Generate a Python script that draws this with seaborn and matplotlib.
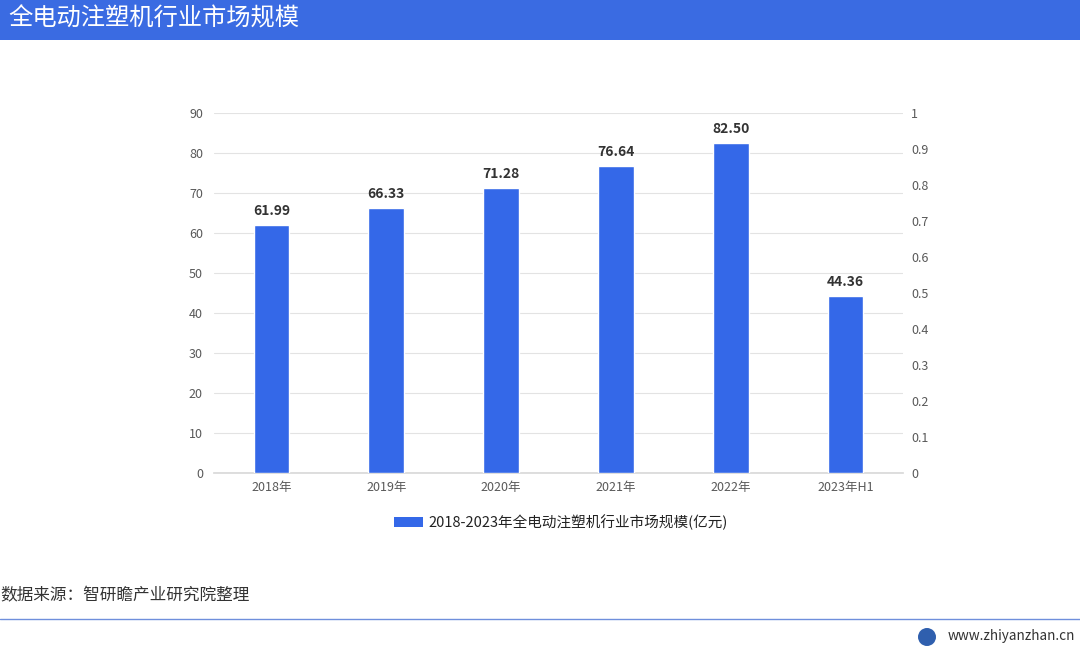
import matplotlib
matplotlib.use("Agg")
import matplotlib.pyplot as plt
import seaborn as sns
import pandas as pd
from matplotlib.patches import Rectangle, Ellipse
from matplotlib.lines import Line2D

categories = ["2018年", "2019年", "2020年", "2021年", "2022年", "2023年H1"]
values = [61.99, 66.33, 71.28, 76.64, 82.50, 44.36]
left_ticks = [0, 10, 20, 30, 40, 50, 60, 70, 80, 90]
right_ticks = [0, 0.1, 0.2, 0.3, 0.4, 0.5, 0.6, 0.7, 0.8, 0.9, 1]
right_labels = ["0", "0.1", "0.2", "0.3", "0.4", "0.5", "0.6", "0.7", "0.8", "0.9", "1"]
series_name = "2018-2023年全电动注塑机行业市场规模(亿元)"
title = "全电动注塑机行业市场规模"
source = "数据来源：智研瞻产业研究院整理"
site = "www.zhiyanzhan.cn"

sns.set_theme(style="white")
plt.rcParams['font.family'] = ['Noto Sans CJK SC', 'DejaVu Sans']

bar_color = "#3468e8"
df = pd.DataFrame({"cat": categories, "val": values})

fig = plt.figure(figsize=(10.8, 6.52), dpi=100)
fig.patch.set_facecolor("white")

# title banner
fig.patches.append(Rectangle((0, 1 - 40/652), 1, 40/652, transform=fig.transFigure,
                             facecolor="#3a6be2", edgecolor="none", zorder=0))
fig.text(8/1080, 1 - 19/652, title, color="white", fontsize=17.5, va="center", ha="left")

ax = fig.add_axes([214/1080, 1 - 473/652, 689/1080, 360/652])
sns.barplot(data=df, x="cat", y="val", color=bar_color, width=0.31, ax=ax,
            saturation=1, zorder=3)
ax.set_ylim(0, 90)
ax.set_yticks(left_ticks)
ax.set_xlabel("")
ax.set_ylabel("")
ax.grid(axis="y", color="#e3e3e3", linewidth=0.8, zorder=0)
for s in ["top", "right", "left"]:
    ax.spines[s].set_visible(False)
ax.spines["bottom"].set_color("#d9d9d9")
ax.tick_params(axis="both", colors="#666666", labelsize=9, length=0)
ax.tick_params(axis="y", pad=8)
ax.tick_params(axis="x", pad=6)
for lbl in ax.get_xticklabels() + ax.get_yticklabels():
    lbl.set_color("#595959")

for c in ax.containers:
    ax.bar_label(c, labels=[f"{v:.2f}" for v in values], padding=5,
                 fontsize=10, color="#333333", fontweight="bold")

ax2 = ax.twinx()
ax2.set_ylim(0, 1)
ax2.set_yticks(right_ticks)
ax2.set_yticklabels(right_labels)
for s in ["top", "right", "left", "bottom"]:
    ax2.spines[s].set_visible(False)
ax2.tick_params(axis="y", colors="#595959", labelsize=9, length=0, pad=6)

# legend
handle = Rectangle((0, 0), 1, 1, facecolor=bar_color, edgecolor="none")
fig.legend([handle], [series_name], loc="center", bbox_to_anchor=(561/1080, 1 - 522/652),
           frameon=False, fontsize=10.5, handlelength=2.0, handleheight=0.7,
           handletextpad=0.4, labelcolor="#222222")

# source
fig.text(0, 1 - 596/652, source, fontsize=12, color="#333333", va="center", ha="left")
fig.lines.append(Line2D([0, 1], [1 - 619/652, 1 - 619/652], transform=fig.transFigure,
                        color="#6f8fdc", linewidth=1))

# site logo
fig.patches.append(Ellipse((927/1080, 1 - 637/652), 18/1080, 18/652, transform=fig.transFigure,
                           facecolor="#2f5fae", edgecolor="none"))
fig.text(948/1080, 1 - 636/652, site, fontsize=9.8, color="#333333", va="center", ha="left")

fig.savefig("out.png", dpi=100)
